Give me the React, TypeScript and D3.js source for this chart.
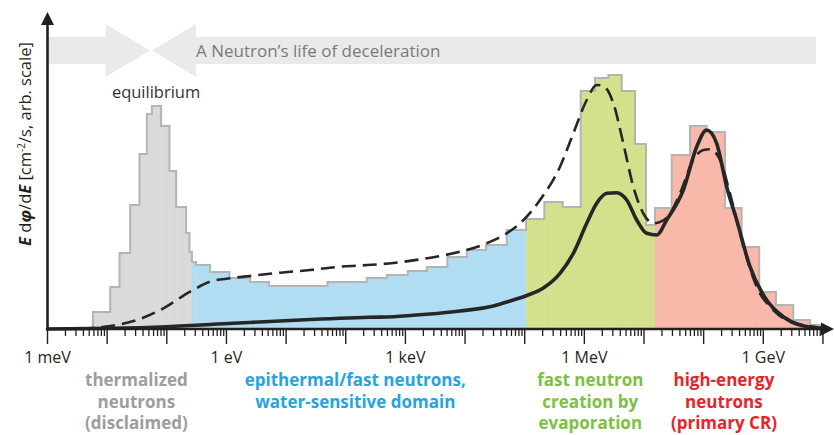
import * as d3 from "d3";
import React from "react";

// histogram bin edges, in log10(E / eV)
const binEdges = [
  -2.239, -1.949, -1.793, -1.614, -1.458, -1.334, -1.25, -1.095, -0.955, -0.843, -0.676, -0.62, -0.58,
  -0.508, -0.273, 0.05, 0.397, 0.715, 1.693, 2.353, 2.688, 3.04, 3.358, 3.704, 4.029, 4.352, 4.699, 5.023,
  5.329, 5.637, 5.939, 6.179, 6.402, 6.626, 6.849, 7.034, 7.184,
  7.464, 7.771, 8.051, 8.358, 8.637, 8.932, 9.212, 9.502, 9.782, 9.978,
];
// E dphi/dE per bin (arb. units)
const binFlux = [
  17, 42, 76, 124, 175, 215, 223, 203, 158, 122, 96, 77,
  67, 64, 57, 51, 47, 43, 47, 51, 54, 58, 62, 72, 79, 84, 99,
  110, 127, 122, 238, 251, 254, 238, 185, 104,
  121, 174, 203, 197, 121, 82, 37, 24, 9, 4,
];
// domain boundaries (log10 E) and region styling
const regionStart = [-Infinity, -0.58, 5.023, 7.184];
const regionFill = ["#d9dada", "#b1ddf3", "#d3e08c", "#f8b8aa"];
const regionText = ["#9d9d9d", "#27a4dd", "#7cc142", "#e4262b"];
const regionLabels = [
  ["thermalized", "neutrons", "(disclaimed)"],
  ["epithermal/fast neutrons,", "water-sensitive domain"],
  ["fast neutron", "creation by", "evaporation"],
  ["high-energy", "neutrons", "(primary CR)"],
];
const regionLabelAt = [-1.51, 2.16, 6.1, 8.34];

// dashed model curve
const dashedLogE = [
  -2.452, -2.234, -1.949, -1.502, -1.056, -0.609, -0.273, 0.062, 0.397, 0.9, 1.402, 1.905, 2.241, 2.799,
  3.358, 3.916, 4.364, 4.699, 4.922, 5.257, 5.592, 5.815, 6.04, 6.207, 6.318, 6.486, 6.653, 6.821, 6.988,
  7.156, 7.38, 7.603, 7.826, 7.994, 8.106, 8.274, 8.441, 8.609, 8.889, 9.167, 9.447, 9.837, 9.978,
];
const dashedFlux = [
  0, 1, 3, 9, 20.7, 37.3, 47.3, 50.7, 53, 56.3, 59, 62.3, 63.5, 66,
  70.7, 77.3, 85.7, 95.7, 105.7, 129, 162.3, 195.7, 229, 244, 243, 225.7, 185.7, 142.3, 115.7,
  105.7, 111, 135.7, 169, 179, 179.7, 169, 135.7, 95.7, 42.3, 19, 7.3, 2.3, 0.7,
];
// solid measured curve
const solidLogE = [
  -3.0, -1.949, -0.999, 0.117, 1.235, 2.408, 2.799, 3.358, 3.916, 4.475, 4.754, 5.034, 5.312, 5.592,
  5.815, 6.04, 6.207, 6.375, 6.543, 6.71, 6.878, 7.045, 7.213, 7.38, 7.659, 7.884, 8.051, 8.218, 8.386,
  8.554, 8.777, 9.056, 9.335, 9.614, 9.978,
];
const solidFlux = [
  0, 0.7, 2.3, 5.7, 9, 11.7, 12.3, 14.7, 18, 23, 28, 33.5, 41, 55.7,
  75.7, 105.7, 125.7, 135.7, 136.3, 129, 109, 95.7, 94, 109, 139, 182.3, 199, 185.7, 142.3,
  109, 62.3, 29, 12.3, 4, 0.7,
];

const majorDecades = d3.range(-3, 11);
const tickLabels = ["1 meV", "1 eV", "1 keV", "1 MeV", "1 GeV"];
const tickLabelAt = [-3, 0, 3, 6, 9];

const W = 834;
const H = 435;
const FONT = "'Open Sans', 'Noto Sans', sans-serif";
const INK = "#231f20";

export default function App() {
  const x = d3.scaleLinear().domain([-3, 9]).range([47.5, 763.3]);
  const y = d3.scaleLinear().domain([0, 317]).range([329, 12]);
  const x0 = x(-3);
  const y0 = y(0);

  const regionOf = (e: number) => {
    let r = 0;
    regionStart.forEach((s, i) => {
      if (e >= s - 1e-6) r = i;
    });
    return r;
  };

  const bins = binFlux.map((v, i) => ({ a: binEdges[i], b: binEdges[i + 1], v }));

  // outline of histogram
  let outline = `M${x(binEdges[0])},${y0}`;
  bins.forEach((d) => {
    outline += `L${x(d.a)},${y(d.v)}L${x(d.b)},${y(d.v)}`;
  });
  outline += `L${x(binEdges[binEdges.length - 1])},${y0}`;

  const line = d3
    .line<[number, number]>()
    .x((d) => x(d[0]))
    .y((d) => y(d[1]))
    .curve(d3.curveMonotoneX);
  const dashedPath = line(dashedLogE.map((e, i) => [e, dashedFlux[i]]) as [number, number][]) || "";
  const solidPath = line(solidLogE.map((e, i) => [e, solidFlux[i]]) as [number, number][]) || "";

  const minors: number[] = [];
  d3.range(-3, 10).forEach((dec) => {
    for (let k = 2; k <= 9; k++) minors.push(dec + Math.log10(k));
  });

  // banner geometry
  const bandTop = 37;
  const bandBot = 64;
  const headTop = 24;
  const headBot = 77;
  const midY = (bandTop + bandBot) / 2;
  const leftArrow = `M${x0 + 1},${bandTop}L105.5,${bandTop}L105.5,${headTop}L150,${midY}L105.5,${headBot}L105.5,${bandBot}L${x0 + 1},${bandBot}Z`;
  const rightArrow = `M196,${bandTop}L196,${headTop}L152,${midY}L196,${headBot}L196,${bandBot}L816,${bandBot}L816,${bandTop}Z`;

  return (
    <svg
      width={W}
      height={H}
      style={{ position: "absolute", left: 0, top: 0, background: "#fff" }}
      fontFamily={FONT}
    >
      {/* deceleration banner */}
      <path d={leftArrow} fill="#eaeaea" />
      <path d={rightArrow} fill="#eaeaea" />
      <text x={196} y={56.5} fontSize={17} fill="#7a7a7a">
        A Neutron’s life of deceleration
      </text>

      {/* histogram */}
      {bins.map((d, i) => (
        <rect
          key={i}
          x={x(d.a)}
          y={y(d.v)}
          width={x(d.b) - x(d.a) + 0.4}
          height={y0 - y(d.v)}
          fill={regionFill[regionOf(d.a)]}
        />
      ))}
      <path d={outline} fill="none" stroke="#b4b4b4" strokeWidth={2} strokeLinejoin="miter" />

      {/* curves */}
      <path d={dashedPath} fill="none" stroke="#262626" strokeWidth={2.6} strokeDasharray="14 7" />
      <path d={solidPath} fill="none" stroke="#262626" strokeWidth={3.6} strokeLinejoin="round" strokeLinecap="round" />

      <text x={x(-1.18)} y={97.5} fontSize={16.5} fill="#333" textAnchor="middle">
        equilibrium
      </text>

      {/* x axis */}
      {minors.map((t, i) => (
        <line key={"m" + i} x1={x(t)} x2={x(t)} y1={y0} y2={y0 + 7} stroke={INK} strokeWidth={1.3} />
      ))}
      {majorDecades.map((t) => (
        <line key={"M" + t} x1={x(t)} x2={x(t)} y1={y0} y2={y0 + 15} stroke={INK} strokeWidth={1.4} />
      ))}
      <line x1={x0 - 1.5} x2={824} y1={y0} y2={y0} stroke={INK} strokeWidth={2.6} />
      <path d={`M821,${y0 - 6.5}L834,${y0}L821,${y0 + 6.5}Z`} fill={INK} />
      {tickLabels.map((t, i) => (
        <text key={t} x={x(tickLabelAt[i])} y={363} fontSize={16} fill={INK} textAnchor="middle">
          {t}
        </text>
      ))}

      {/* y axis */}
      <line x1={x0} x2={x0} y1={y0 + 1.3} y2={22} stroke={INK} strokeWidth={2.6} />
      <path d={`M${x0 - 6.5},25L${x0},12L${x0 + 6.5},25Z`} fill={INK} />
      <text transform={`translate(31,144) rotate(-90)`} fontSize={16.5} fill={INK} textAnchor="middle">
        <tspan fontWeight={700} fontStyle="italic">E</tspan>
        <tspan> d</tspan>
        <tspan fontWeight={700} fontStyle="italic">φ</tspan>
        <tspan>/d</tspan>
        <tspan fontWeight={700} fontStyle="italic">E</tspan>
        <tspan> [cm</tspan>
        <tspan dy={-6} fontSize={10}>-2</tspan>
        <tspan dy={6}>/s, arb. scale]</tspan>
      </text>

      {/* domain labels */}
      {regionLabels.map((lines, r) =>
        lines.map((l, j) => (
          <text
            key={r + "-" + j}
            x={x(regionLabelAt[r])}
            y={386 + j * 21.5}
            fontSize={17}
            fontWeight={700}
            fill={regionText[r]}
            textAnchor="middle"
          >
            {l}
          </text>
        ))
      )}
    </svg>
  );
}
